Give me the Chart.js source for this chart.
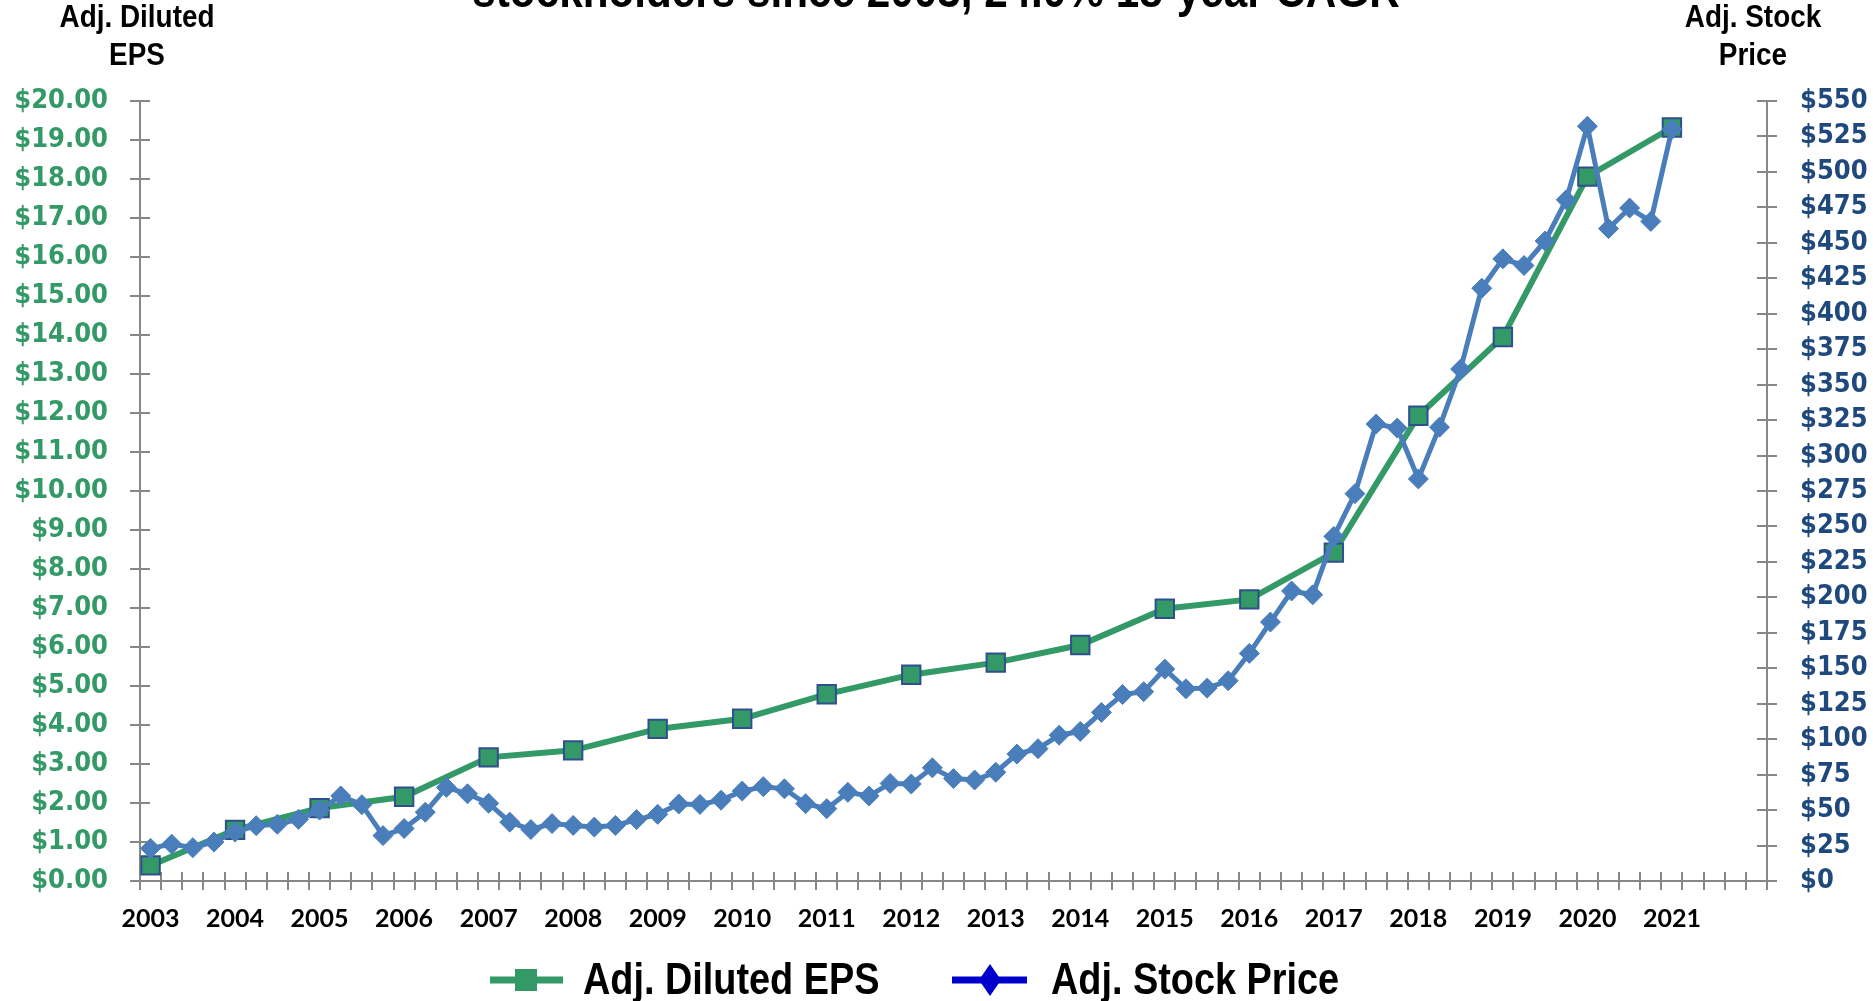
<!DOCTYPE html>
<html>
<head>
<meta charset="utf-8">
<script src="https://cdn.jsdelivr.net/npm/chart.js@4.4.1/dist/chart.umd.min.js"></script>
<style>
  html, body { margin: 0; padding: 0; background: #fff; }
  canvas { display: block; }
</style>
</head>
<body>
<canvas id="mycanvas" width="1873" height="1001"></canvas>
<script>
// year tick labels (one label every 4 quarters)
var years = ['2003','2004','2005','2006','2007','2008','2009','2010','2011','2012',
             '2013','2014','2015','2016','2017','2018','2019','2020','2021'];
var quarterNames = ['Q1','Q2','Q3','Q4'];
var axisEnd = '2022 Q1';   // the axis runs one quarter past 2021

// annual adj. diluted EPS, one per year
var epsValues = [0.40, 1.31, 1.87, 2.16, 3.17, 3.35, 3.90, 4.16, 4.79, 5.29,
                 5.60, 6.05, 6.98, 7.22, 8.42, 11.93, 13.95, 18.06, 19.32];

// quarterly adj. stock price, 2003 Q1 .. 2021 Q1
var stockPrices = [
  23.0, 26.0, 23.5, 27.5,   34.5, 39.0, 40.0, 43.5,   50.0, 60.0, 53.8, 32.0,
  37.0, 48.5, 66.0, 61.5,   54.8, 41.5, 36.3, 40.5,   39.2, 38.0, 39.2, 43.3,
  47.0, 54.3, 54.0, 57.0,   63.4, 66.5, 65.0, 54.5,   51.0, 62.5, 60.0, 68.8,
  68.4, 79.8, 72.2, 71.2,   76.7, 89.5, 93.3, 102.8,  105.5, 118.9, 131.5, 133.5,
  149.4, 135.5, 136.0, 141.2, 160.5, 182.6, 204.5, 201.8, 243.0, 273.1, 322.2, 319.4,
  283.5, 320.0, 361.0, 418.0, 438.7, 434.0, 451.3, 480.3, 532.2, 460.0, 474.5, 465.1,
  530.0
];

var green = '#339966';
var steel = '#4A7EBB';
var navy = '#1F497D';
var axisGray = '#878787';
var narrow = '"Liberation Sans Narrow", "Arial Narrow", "Liberation Sans", sans-serif';
var tickFamily = '"DejaVu Sans Condensed", "DejaVu Sans", sans-serif';

var quarters = [];
years.forEach(function (y) {
  quarterNames.forEach(function (q) { quarters.push(y + ' ' + q); });
});
quarters.push(axisEnd);

var epsPoints = years.map(function (y, k) {
  return { x: y + ' Q1', y: epsValues[k] };
});

// tick marks that cross the axis lines (inner half)
var crossTicks = {
  id: 'crossTicks',
  beforeDatasetsDraw: function (chart) {
    var ctx = chart.ctx, ca = chart.chartArea;
    var xs = chart.scales.x, ys = chart.scales.y, ys1 = chart.scales.y1;
    ctx.save();
    ctx.strokeStyle = axisGray;
    ctx.lineWidth = 2;
    ctx.beginPath();
    for (var i = 0; i <= quarters.length; i++) {
      var px = Math.round(xs.getPixelForValue(i - 0.5));
      ctx.moveTo(px, ca.bottom);
      ctx.lineTo(px, ca.bottom - 9);
    }
    ys.ticks.forEach(function (t, i) {
      var py = Math.round(ys.getPixelForTick(i));
      ctx.moveTo(ca.left, py);
      ctx.lineTo(ca.left + 10, py);
    });
    ys1.ticks.forEach(function (t, i) {
      var py = Math.round(ys1.getPixelForTick(i));
      ctx.moveTo(ca.right, py);
      ctx.lineTo(ca.right - 10, py);
    });
    ctx.stroke();
    ctx.restore();
  }
};

// draws text squeezed horizontally, like the condensed type of the original
function squeezed(ctx, text, x, y, sx, align) {
  ctx.save();
  ctx.translate(x, y);
  ctx.scale(sx, 1);
  ctx.textAlign = align;
  ctx.fillText(text, 0, 0);
  ctx.restore();
}

// title, axis headers and legend
var extraText = {
  id: 'extraText',
  afterDraw: function (chart) {
    var ctx = chart.ctx;
    ctx.save();
    ctx.fillStyle = '#000';
    ctx.textBaseline = 'alphabetic';
    ctx.font = 'bold 48px ' + narrow;
    squeezed(ctx, 'stockholders since 2003, 24.0% 18-year CAGR', 936, 7, 0.88, 'center');

    ctx.font = 'bold 31px ' + narrow;
    squeezed(ctx, 'Adj. Diluted', 137, 27, 0.9, 'center');
    squeezed(ctx, 'EPS', 137, 65, 0.9, 'center');
    squeezed(ctx, 'Adj. Stock', 1753, 27, 0.9, 'center');
    squeezed(ctx, 'Price', 1753, 65, 0.9, 'center');

    // legend
    var cy = 980;
    ctx.lineWidth = 7;
    ctx.strokeStyle = green;
    ctx.beginPath(); ctx.moveTo(490, cy); ctx.lineTo(563, cy); ctx.stroke();
    ctx.fillStyle = green;
    ctx.fillRect(526 - 11, cy - 11, 22, 22);

    ctx.strokeStyle = '#0000CC';
    ctx.beginPath(); ctx.moveTo(952, cy); ctx.lineTo(1027, cy); ctx.stroke();
    ctx.fillStyle = '#0000CC';
    ctx.beginPath();
    ctx.moveTo(990, cy - 16); ctx.lineTo(1001, cy);
    ctx.lineTo(990, cy + 16); ctx.lineTo(979, cy);
    ctx.closePath(); ctx.fill();

    ctx.fillStyle = '#000';
    ctx.textBaseline = 'middle';
    ctx.font = 'bold 44px ' + narrow;
    squeezed(ctx, 'Adj. Diluted EPS', 583, cy + 2, 0.86, 'left');
    squeezed(ctx, 'Adj. Stock Price', 1051, cy + 2, 0.86, 'left');
    ctx.restore();
  }
};

var ctx = document.getElementById('mycanvas');
var chart = new Chart(ctx, {
  type: 'line',
  data: {
    labels: quarters,
    datasets: [
      {
        label: 'Adj. Stock Price',
        data: stockPrices,
        yAxisID: 'y1',
        order: 0,
        borderColor: steel,
        backgroundColor: steel,
        borderWidth: 5,
        pointStyle: 'rectRot',
        pointRadius: 10,
        pointBorderWidth: 1,
        pointBackgroundColor: steel,
        pointBorderColor: steel
      },
      {
        label: 'Adj. Diluted EPS',
        data: epsPoints,
        yAxisID: 'y',
        order: 1,
        borderColor: green,
        backgroundColor: green,
        borderWidth: 6,
        pointStyle: 'rect',
        pointRadius: 13,
        pointBorderWidth: 2,
        pointBackgroundColor: green,
        pointBorderColor: '#2F4F8F'
      }
    ]
  },
  options: {
    responsive: false,
    animation: false,
    layout: { padding: { top: 101, left: 0, right: 0, bottom: 0 } },
    elements: { line: { tension: 0 } },
    plugins: {
      legend: { display: false },
      title: { display: false },
      tooltip: { enabled: false }
    },
    scales: {
      x: {
        type: 'category',
        offset: true,
        grid: { offset: true, drawOnChartArea: false, color: axisGray, lineWidth: 2, tickLength: 9 },
        border: { color: axisGray, width: 2 },
        ticks: {
          autoSkip: false,
          maxRotation: 0,
          padding: 14,
          color: '#000',
          font: { family: 'Lato', weight: 'bold', size: 25 },
          callback: function (value, index) {
            return index % 4 === 0 && index / 4 < years.length ? years[index / 4] : '';
          }
        },
        afterFit: function (scale) { scale.height = 120; }
      },
      y: {
        position: 'left',
        min: 0,
        max: 20,
        grid: { drawOnChartArea: false, color: axisGray, lineWidth: 2, tickLength: 10 },
        border: { color: axisGray, width: 2 },
        ticks: {
          stepSize: 1,
          padding: 22,
          color: green,
          font: { family: tickFamily, weight: 'bold', size: 27 },
          callback: function (v) { return '$' + v.toFixed(2); }
        },
        afterFit: function (scale) { scale.width = 140; }
      },
      y1: {
        position: 'right',
        min: 0,
        max: 550,
        grid: { drawOnChartArea: false, color: axisGray, lineWidth: 2, tickLength: 10 },
        border: { color: axisGray, width: 2 },
        ticks: {
          stepSize: 25,
          padding: 23,
          color: navy,
          font: { family: tickFamily, weight: 'bold', size: 27 },
          callback: function (v) { return '$' + v; }
        },
        afterFit: function (scale) { scale.width = 106; }
      }
    }
  },
  plugins: [crossTicks, extraText]
});
</script>
</body>
</html>
